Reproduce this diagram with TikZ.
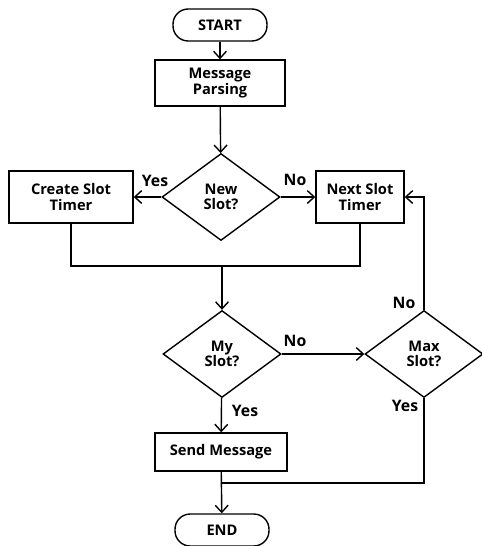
\documentclass[tikz,border=0pt]{standalone}
\usepackage{fontspec}
\setmainfont{Open Sans}
\usetikzlibrary{shapes.geometric,arrows.meta}

\tikzset{
    every node/.style={font=\bfseries\fontsize{12.5}{14}\selectfont, align=center},
    terminal/.style={draw, line width=1.2pt, rounded corners=13pt, minimum width=94*0.03cm, minimum height=32*0.03cm, inner sep=0pt},
    process/.style={draw, line width=1.2pt, minimum height=46*0.03cm, inner sep=0pt},
    decision/.style={draw, diamond, line width=1.2pt, minimum width=118*0.03cm, minimum height=87*0.03cm, inner sep=0pt},
    flow/.style={line width=1.2pt, -{Straight Barb[length=6pt,width=11pt,line width=1.2pt]}},
    line/.style={line width=1.2pt},
    lab/.style={font=\bfseries\fontsize{13.5}{15}\selectfont}
}

\begin{document}
\begin{tikzpicture}[x=0.03cm, y=-0.03cm]
    \useasboundingbox (0,0) rectangle (482,546);

    % Start und Parsing
    \node[terminal] (start) at (220,25) {START};
    \node[process, minimum width=130*0.03cm] (parse) at (220,83) {Message\\[-1pt]Parsing};

    % Erste Entscheidung
    \node[decision] (newslot) at (221,197) {New\\[-1pt]Slot?};
    \node[process, minimum width=124*0.03cm, minimum height=52*0.03cm] (create) at (71,197) {Create Slot\\[-1pt]Timer};
    \node[process, minimum width=88*0.03cm, minimum height=52*0.03cm] (next) at (360,197) {Next Slot\\[-1pt]Timer};

    % Zweite Entscheidung
    \node[decision] (myslot) at (222,354) {My\\[-1pt]Slot?};
    \node[decision] (maxslot) at (424,354) {Max\\[-1pt]Slot?};

    % Senden und Ende
    \node[process, minimum width=132*0.03cm, minimum height=38*0.03cm] (send) at (221,452) {Send Message};
    \node[terminal] (end) at (222,530) {END};

    % Hilfspunkte
    \coordinate (merge) at (222,266);
    \coordinate (join) at (222,483);

    % Verbindungen
    \draw[flow] (start) -- (parse);
    \draw[flow] (parse) -- (newslot);
    \draw[flow] (newslot) -- (create);
    \draw[flow] (newslot) -- (next);
    \draw[line] (create.south) |- (merge) -| (next.south);
    \draw[flow] (merge) -- (myslot);
    \draw[flow] (myslot) -- (maxslot);
    \draw[flow] (maxslot.north) |- (next.east);
    \draw[flow] (myslot) -- (send);
    \draw[line] (maxslot.south) |- (join);
    \draw[flow] (send) -- (end);

    % Beschriftung
    \node[lab] (yes1) at (155,181) {Yes};
    \node[lab] (no1) at (295,180) {No};
    \node[lab] (no2) at (295,341) {No};
    \node[lab] (no3) at (404,303) {No};
    \node[lab] (yes2) at (245,411) {Yes};
    \node[lab] (yes3) at (405,406) {Yes};
\end{tikzpicture}
\end{document}
